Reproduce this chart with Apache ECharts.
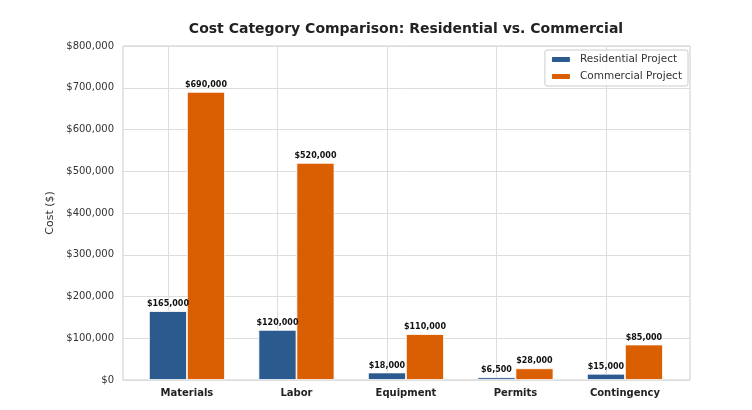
<!DOCTYPE html>
<html>
<head>
<meta charset="utf-8">
<script src="https://cdn.jsdelivr.net/npm/echarts@6/dist/echarts.min.js"></script>
<style>
  html, body { margin: 0; padding: 0; background: #fff; }
  #main { width: 752px; height: 410px; }
</style>
</head>
<body>
<div id="main"></div>
<script>
// data
var categories = ['Materials', 'Labor', 'Equipment', 'Permits', 'Contingency'];
var residential = [165000, 120000, 18000, 6500, 15000];
var commercial = [690000, 520000, 110000, 28000, 85000];
var yTicks = [0, 100000, 200000, 300000, 400000, 500000, 600000, 700000, 800000];

var fontFam = 'DejaVu Sans';
var catIdx = categories.map(function (c, i) { return i; });

function money(v) {
    return '$' + Math.round(v).toString().replace(/\B(?=(\d{3})+(?!\d))/g, ',');
}

var myChart = echarts.init(document.getElementById('main'));

var barLabel = {
    show: true,
    position: 'top',
    distance: 3,
    formatter: function (p) { return money(p.value[1]); },
    fontFamily: fontFam,
    fontSize: 8,
    fontWeight: 'bold',
    color: '#111'
};

var option = {
    backgroundColor: '#fff',
    animation: false,
    title: {
        text: 'Cost Category Comparison: Residential vs. Commercial',
        left: 401,
        top: 17,
        textAlign: 'center',
        textStyle: {
            fontFamily: fontFam,
            fontSize: 14,
            fontWeight: 'bold',
            color: '#222'
        }
    },
    legend: {
        data: ['Residential Project', 'Commercial Project'],
        orient: 'vertical',
        right: 64,
        top: 50,
        itemWidth: 20,
        itemHeight: 7,
        itemGap: 6,
        padding: [4, 6, 4, 5],
        borderColor: '#ccc',
        borderWidth: 1,
        borderRadius: 2,
        backgroundColor: 'rgba(255,255,255,0.8)',
        textStyle: {
            fontFamily: fontFam,
            fontSize: 10.5,
            color: '#333',
            padding: [0, 0, 0, 4]
        }
    },
    grid: {
        left: 123,
        right: 62,
        top: 46,
        bottom: 30,
        show: true,
        borderColor: '#cccccc',
        borderWidth: 1
    },
    xAxis: {
        type: 'value',
        min: -0.584,
        max: 4.594,
        axisLine: { show: false },
        axisTick: { show: false, customValues: catIdx },
        splitLine: { show: false },
        axisLabel: {
            customValues: catIdx,
            margin: 8,
            fontFamily: fontFam,
            fontSize: 10,
            fontWeight: 'bold',
            color: '#222',
            formatter: function (v) { return categories[Math.round(v)]; }
        }
    },
    yAxis: {
        type: 'value',
        min: yTicks[0],
        max: yTicks[yTicks.length - 1],
        interval: 100000,
        name: 'Cost ($)',
        nameLocation: 'middle',
        nameGap: 65,
        nameTextStyle: {
            fontFamily: fontFam,
            fontSize: 11,
            color: '#333'
        },
        axisLine: { show: false },
        axisTick: { show: false },
        splitLine: { lineStyle: { color: '#dddddd', width: 1 } },
        axisLabel: {
            margin: 9,
            fontFamily: fontFam,
            fontSize: 10,
            color: '#333',
            formatter: money
        }
    },
    series: [{
        name: 'Residential Project',
        type: 'bar',
        data: residential.map(function (v, i) { return [i, v]; }),
        barWidth: 38,
        barGap: '0%',
        itemStyle: { color: '#2b5b8e', borderColor: '#fff', borderWidth: 0.8 },
        label: barLabel,
        markLine: {
            silent: true,
            symbol: 'none',
            label: { show: false },
            lineStyle: { color: '#dddddd', width: 1, type: 'solid' },
            z: 0,
            data: catIdx.map(function (i) { return { xAxis: i }; })
        }
    }, {
        name: 'Commercial Project',
        type: 'bar',
        data: commercial.map(function (v, i) { return [i, v]; }),
        barWidth: 38,
        itemStyle: { color: '#d95f02', borderColor: '#fff', borderWidth: 0.8 },
        label: barLabel
    }]
};

myChart.setOption(option);
</script>
</body>
</html>
